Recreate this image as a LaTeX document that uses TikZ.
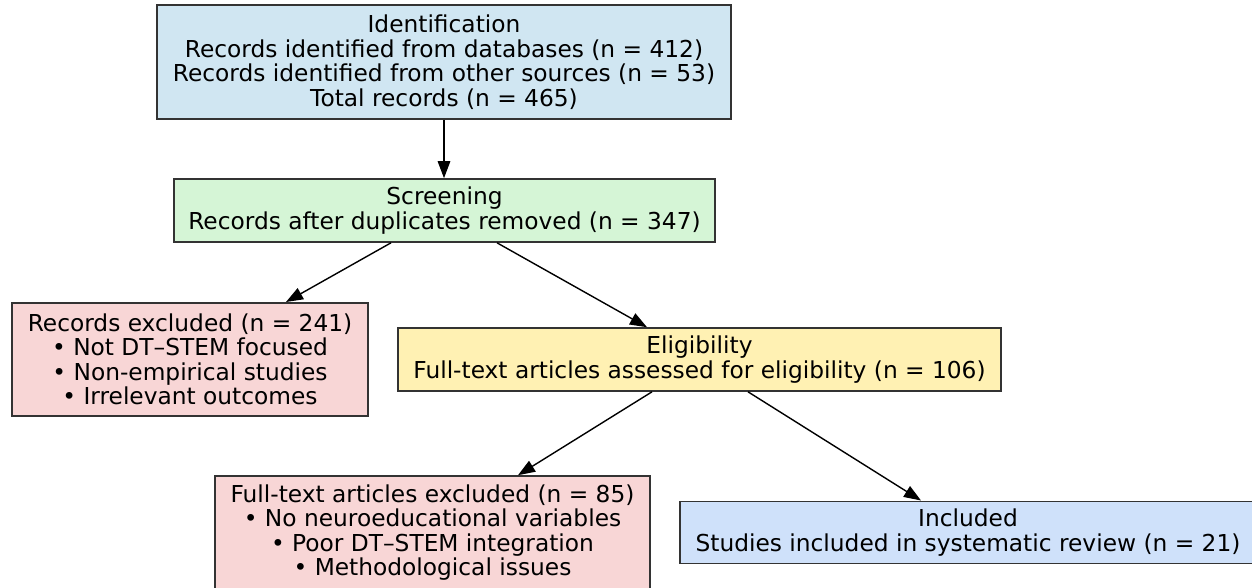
\documentclass[tikz,border=0pt]{standalone}
\usepackage{fontspec}
\setmainfont{DejaVu Sans}
\usetikzlibrary{arrows.meta}
\definecolor{identc}{HTML}{D0E6F2}
\definecolor{screenc}{HTML}{D5F5D6}
\definecolor{exclc}{HTML}{F8D6D6}
\definecolor{eligc}{HTML}{FFF1B3}
\definecolor{inclc}{HTML}{CFE1FA}
\definecolor{borderc}{HTML}{333333}
\tikzset{
  box/.style={draw=borderc, line width=1.6pt, rectangle, align=center, inner sep=0pt,
    font=\fontsize{23.3}{24.6}\selectfont},
  arr/.style={line width=1.4pt, draw=black, -{Triangle[length=17pt,width=12.5pt]}}
}
\begin{document}
\begin{tikzpicture}[x=1pt,y=-1pt]
\useasboundingbox (0,0) rectangle (1252,587);
\clip (0,0) rectangle (1252,587);
\fill[white] (0,0) rectangle (1252,587);
\node[box, fill=identc, minimum width=574pt, minimum height=114pt] (ident) at (444,62)
  {Identification\\Records identified from databases (n = 412)\\Records identified from other sources (n = 53)\\Total records (n = 465)};
\node[box, fill=screenc, minimum width=541pt, minimum height=63pt] (screen) at (444.5,210.5)
  {Screening\\Records after duplicates removed (n = 347)};
\node[box, fill=exclc, minimum width=356pt, minimum height=113pt] (excl1) at (190,359.3)
  {Records excluded (n = 241)\\• Not DT–STEM focused\\• Non-empirical studies\\• Irrelevant outcomes};
\node[box, fill=eligc, minimum width=603pt, minimum height=63pt] (elig) at (699.5,359.5)
  {Eligibility\\Full-text articles assessed for eligibility (n = 106)};
\node[box, fill=exclc, minimum width=435pt, minimum height=113pt] (excl2) at (432.5,532.5)
  {Full-text articles excluded (n = 85)\\• No neuroeducational variables\\• Poor DT–STEM integration\\• Methodological issues};
\node[box, fill=inclc, minimum width=576pt, minimum height=62pt] (incl) at (968,532.3)
  {Included\\Studies included in systematic review (n = 21)};
\draw[arr] (ident.south) -- (ident.south |- screen.north);
\draw[arr] ([xshift=-53.5pt]screen.south) -- ([xshift=96pt]excl1.north);
\draw[arr] ([xshift=52.5pt]screen.south) -- ([xshift=-52.5pt]elig.north);
\draw[arr] ([xshift=-47.5pt]elig.south) -- ([xshift=85.5pt]excl2.north);
\draw[arr] ([xshift=48.5pt]elig.south) -- ([xshift=-47pt]incl.north);
\end{tikzpicture}
\end{document}
